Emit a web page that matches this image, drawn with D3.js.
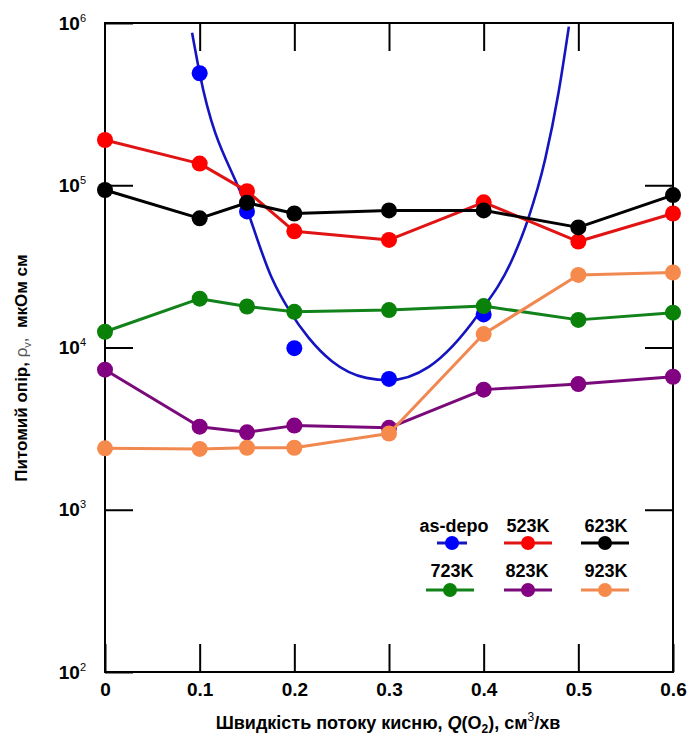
<!DOCTYPE html>
<html><head><meta charset="utf-8">
<script src="https://cdn.jsdelivr.net/npm/d3@7"></script>
<style>
body{margin:0;background:#fff;}
svg{display:block;font-family:"Liberation Sans",Arial,sans-serif;}
</style></head><body>
<svg id="chart" width="688" height="745"></svg>
<script>
// ---- data ----
const qValues = [0, 0.1, 0.15, 0.2, 0.3, 0.4, 0.5, 0.6];
const rho523 = [1.90e5, 1.36e5, 9.2e4, 5.2e4, 4.6e4, 7.85e4, 4.5e4, 6.7e4];
const rho623 = [9.35e4, 6.25e4, 7.8e4, 6.7e4, 7.0e4, 7.0e4, 5.5e4, 8.7e4];
const rho723 = [1.25e4, 2.0e4, 1.79e4, 1.66e4, 1.70e4, 1.80e4, 1.48e4, 1.64e4];
const rho823 = [7.3e3, 3.25e3, 3.0e3, 3.3e3, 3.2e3, 5.5e3, 5.95e3, 6.6e3];
const rho923 = [2.39e3, 2.37e3, 2.41e3, 2.41e3, 2.95e3, 1.21e4, 2.8e4, 2.9e4];
const qAsDepo = [0.1, 0.15, 0.2, 0.3, 0.4];
const rhoAsDepo = [4.9e5, 6.9e4, 9.9e3, 6.4e3, 1.6e4];
// as-depo fitted curve
const fitQ = [0.092, 0.100, 0.149, 0.176, 0.195, 0.215, 0.240, 0.276, 0.300, 0.342, 0.395, 0.430, 0.447, 0.465, 0.479, 0.490];
const fitRho = [8.7e5, 4.9e5, 7.4e4, 2.7e4, 1.68e4, 1.15e4, 8.2e3, 6.5e3, 6.3e3, 7.6e3, 1.62e4, 3.47e4, 6.2e4, 1.45e5, 3.7e5, 9.5e5];
const xTicks = [0, 0.1, 0.2, 0.3, 0.4, 0.5, 0.6];
const yTicks = [1e2, 1e3, 1e4, 1e5, 1e6];
const yTickExp = ["2", "3", "4", "5", "6"];
const seriesNames = ["523K", "623K", "723K", "823K", "923K"];
const seriesValues = [rho523, rho623, rho723, rho823, rho923];
const markerColors = ["#ff0000", "#000000", "#0a820a", "#820082", "#f68a4c"];
const lineColors = ["#e01414", "#000000", "#12821a", "#7a0a7a", "#f08850"];
const asDepoName = "as-depo";
const asDepoMarker = "#0000ff";
const asDepoLine = "#1414c0";

// ---- scales ----
const x = d3.scaleLinear().domain([0, 0.6]).range([105, 673]);
const y = d3.scaleLog().domain([1e2, 1e6]).range([672, 23]);
const FONT = "'Liberation Sans', Arial, sans-serif";

const svg = d3.select("#chart");

function styleAxis(g) {
  g.select(".domain").remove();
  g.attr("font-family", FONT).attr("font-size", 19).attr("font-weight", "bold");
  g.selectAll(".tick line").attr("stroke", "#000").attr("stroke-width", 2);
  g.selectAll(".tick text").attr("fill", "#000");
}

// bottom axis
svg.append("g").attr("transform", "translate(0,672)")
  .call(d3.axisBottom(x).tickValues(xTicks).tickSize(-28).tickSizeOuter(0).tickPadding(11)
    .tickFormat(d => d === 0 ? "0" : d3.format(".1f")(d)))
  .call(styleAxis);
// top axis
svg.append("g").attr("transform", "translate(0,23)")
  .call(d3.axisTop(x).tickValues(xTicks.slice(1, -1)).tickSize(-28).tickSizeOuter(0).tickFormat(""))
  .call(styleAxis);
// left axis
const gl = svg.append("g").attr("transform", "translate(105,0)")
  .call(d3.axisLeft(y).tickValues(yTicks).tickSize(-28).tickSizeOuter(0).tickPadding(19).tickFormat(() => ""))
  .call(styleAxis);
gl.selectAll(".tick text").each(function(d, i) {
  const t = d3.select(this);
  t.text(null);
  t.append("tspan").text("10");
  t.append("tspan").attr("dy", -8).attr("font-size", 11).attr("font-weight", "normal").text(yTickExp[i]);
});
// right axis
svg.append("g").attr("transform", "translate(673,0)")
  .call(d3.axisRight(y).tickValues(yTicks.slice(1, -1)).tickSize(-28).tickSizeOuter(0).tickFormat(""))
  .call(styleAxis);

// frame
svg.append("rect").attr("x", 105).attr("y", 23).attr("width", 568).attr("height", 649)
  .attr("fill", "none").attr("stroke", "#000").attr("stroke-width", 2);

// as-depo: fit curve + markers
const fitData = fitQ.map((q, i) => ({q, v: fitRho[i]}));
svg.append("path").datum(fitData)
  .attr("d", d3.line().x(d => x(d.q)).y(d => y(d.v)).curve(d3.curveMonotoneX))
  .attr("fill", "none").attr("stroke", asDepoLine).attr("stroke-width", 2.6);
svg.append("g").selectAll("circle").data(qAsDepo.map((q, i) => ({q, v: rhoAsDepo[i]})))
  .join("circle").attr("cx", d => x(d.q)).attr("cy", d => y(d.v)).attr("r", 8).attr("fill", asDepoMarker);

// annealed series
const line = d3.line().x(d => x(d.q)).y(d => y(d.v));
seriesValues.forEach((vals, si) => {
  const data = qValues.map((q, i) => ({q, v: vals[i]}));
  const g = svg.append("g");
  g.append("path").datum(data).attr("d", line).attr("fill", "none")
    .attr("stroke", lineColors[si]).attr("stroke-width", 3).attr("stroke-linejoin", "round");
  g.selectAll("circle").data(data).join("circle")
    .attr("cx", d => x(d.q)).attr("cy", d => y(d.v)).attr("r", 8).attr("fill", markerColors[si]);
});

// legend
const legendItems = [
  {name: asDepoName, m: asDepoMarker, l: asDepoLine, cx: 452, tx: 454, row: 0, half: 15},
  {name: seriesNames[0], m: markerColors[0], l: lineColors[0], cx: 528, tx: 528, row: 0, half: 24},
  {name: seriesNames[1], m: markerColors[1], l: lineColors[1], cx: 605, tx: 606, row: 0, half: 24},
  {name: seriesNames[2], m: markerColors[2], l: lineColors[2], cx: 450, tx: 452, row: 1, half: 24},
  {name: seriesNames[3], m: markerColors[3], l: lineColors[3], cx: 528, tx: 527, row: 1, half: 24},
  {name: seriesNames[4], m: markerColors[4], l: lineColors[4], cx: 605, tx: 606, row: 1, half: 24}
];
const lg = svg.append("g");
legendItems.forEach(it => {
  const ty = it.row === 0 ? 532 : 577;
  const sy = it.row === 0 ? 543 : 590;
  lg.append("text").attr("x", it.tx).attr("y", ty).attr("text-anchor", "middle")
    .attr("font-family", FONT).attr("font-size", 18).attr("font-weight", "bold").text(it.name);
  lg.append("line").attr("x1", it.cx - it.half).attr("x2", it.cx + it.half).attr("y1", sy).attr("y2", sy)
    .attr("stroke", it.l).attr("stroke-width", 3);
  lg.append("circle").attr("cx", it.cx).attr("cy", sy).attr("r", 7).attr("fill", it.m);
});

// y title
const yt = svg.append("text").attr("transform", "translate(27,368) rotate(-90)")
  .attr("text-anchor", "middle").attr("font-family", FONT).attr("font-size", 17).attr("font-weight", "bold");
yt.append("tspan").text("Питомий опір, ");
yt.append("tspan").attr("font-weight", "normal").attr("fill", "#555").text("ρ");
yt.append("tspan").attr("font-weight", "normal").attr("fill", "#555").attr("font-size", 11).attr("dy", 4).text("v");
yt.append("tspan").attr("font-weight", "normal").attr("fill", "#555").attr("dy", -4).text(",\u00a0\u00a0");
yt.append("tspan").text("мкОм см");

// x title
const xt = svg.append("text").attr("x", 388).attr("y", 729).attr("text-anchor", "middle")
  .attr("font-family", FONT).attr("font-size", 18).attr("font-weight", "bold");
xt.append("tspan").text("Швидкість потоку кисню, ");
xt.append("tspan").attr("font-style", "italic").text("Q");
xt.append("tspan").text("(O");
xt.append("tspan").attr("font-size", 12).attr("dy", 4).text("2");
xt.append("tspan").attr("dy", -4).text("), см");
xt.append("tspan").attr("font-size", 12).attr("font-weight", "normal").attr("dy", -8).text("3");
xt.append("tspan").attr("dy", 8).text("/хв");
</script></body></html>
